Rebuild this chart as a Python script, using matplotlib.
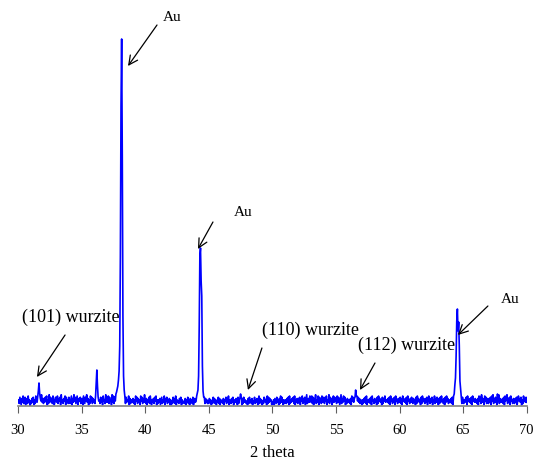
import numpy as np
import matplotlib
matplotlib.use('Agg')
import matplotlib.pyplot as plt

# XRD scan, 30-70 deg in 0.05 deg steps; background,
# one string per degree (20 points each), one digit per point
theta_start = 30.0
theta_step = 0.05
background_scale = 1.25
background = [
    "35274163825714628350", "42637152843617254936", "26374815293746285137",
    "53826471935264817352", "74258163947258136472", "36185274936152847263",
    "52736184527361845293", "63827451938264715839", "72548361927354816253",
    "36251847263518472639", "42615372841536274815", "25361472538164725361",
    "51427362815342637152", "34261537241635271463", "46253716243517263524",
    "26351427362514372615", "34261547263815426371", "25364172538416273542",
    "41627352614372536148", "26351427635182736451", "32516427351628374152",
    "45263718253647281536", "26371548263715924638", "53827164925381746283",
    "37264815392746158374", "62837415926384715263", "35261847362518473625",
    "41526372814536271845", "26351728463517264835", "53627184526371845263",
    "37261845362718452637", "42635172846351728463", "26371584263715482637",
    "51627384526173846253", "36271854362718453627", "42536718453627184536",
    "35261847293651847263", "26371849263751849263", "53627184592637184526",
    "42637158463715284637", "3",
]
# peak points (theta, counts)
peak_theta = [31.55, 31.6, 31.65, 31.7, 31.75,
              36.1, 36.15, 36.2, 36.25, 36.3,
              37.6, 37.7, 37.75, 37.8, 37.85, 37.9, 37.95, 38.0, 38.05, 38.1,
              38.15, 38.2, 38.25, 38.3, 38.35, 38.4,
              44.05, 44.1, 44.15, 44.2, 44.25, 44.3, 44.35, 44.4, 44.45, 44.5, 44.55, 44.6,
              47.45, 47.5, 47.55,
              56.5, 56.55, 56.6,
              64.3, 64.35, 64.4, 64.45, 64.5, 64.55, 64.6, 64.65, 64.7, 64.75, 64.8, 64.85,
              67.7]
peak_counts = [9, 15, 23, 13, 8,
               10, 22, 36, 20, 9,
               9, 12, 14, 17, 20, 26, 35, 60, 150, 300,
               367, 250, 90, 30, 16, 10,
               10, 13, 16, 30, 80, 150, 158, 125, 110, 40, 15, 9,
               8, 12, 9,
               9, 16, 10,
               12, 21, 28, 50, 85, 97, 75, 84, 60, 25, 18, 10,
               12]

labels = ["Au", "Au", "Au", "(101) wurzite", "(110) wurzite", "(112) wurzite"]
label_tip = [(38.65, 340), (44.15, 157), (64.59, 71), (31.49, 29), (48.08, 16), (56.89, 16)]
label_tail = [(40.93, 381), (45.33, 184), (66.95, 100), (33.7, 71), (49.18, 58), (58.07, 43)]
label_text = [(41.4, 382), (47.0, 187), (68.0, 100), (30.3, 80), (49.2, 67), (56.7, 52)]
label_size = [11, 11, 11, 13, 13, 13]

counts = np.array([int(c) for seg in background for c in seg], dtype=float) * background_scale
theta = theta_start + theta_step * np.arange(len(counts))
for t, c in zip(peak_theta, peak_counts):
    counts[int(round((t - theta_start) / theta_step))] = c

plt.rcParams['font.family'] = ['Liberation Serif', 'DejaVu Serif']

fig = plt.figure(figsize=(5.34, 4.61), dpi=100)
ax = fig.add_axes([18 / 534, 55 / 461, (526.7 - 18) / 534, 400 / 461])
ax.plot(theta, counts, color='#0000ff', lw=1.2)
ax.set_xlim(30, 70)
ax.set_ylim(0, 400)

for s in ['left', 'right', 'top']:
    ax.spines[s].set_visible(False)
ax.spines['bottom'].set_color('#808080')
ax.spines['bottom'].set_linewidth(1.2)
ax.set_yticks([])
ax.set_xticks(range(30, 71, 5))
ax.tick_params(axis='x', direction='out', length=5, color='#606060',
               labelsize=10.5, pad=8)
ax.set_xlabel('2 theta', fontsize=12, labelpad=6)

for lab, tip, tail, txt, fs in zip(labels, label_tip, label_tail, label_text, label_size):
    ax.annotate('', xy=tip, xytext=tail,
                arrowprops=dict(arrowstyle='->', color='black', lw=0.9,
                                mutation_scale=16, shrinkA=0, shrinkB=0))
    ax.text(txt[0], txt[1], lab, fontsize=fs, ha='left', va='bottom')

fig.savefig('out.png', dpi=100)
